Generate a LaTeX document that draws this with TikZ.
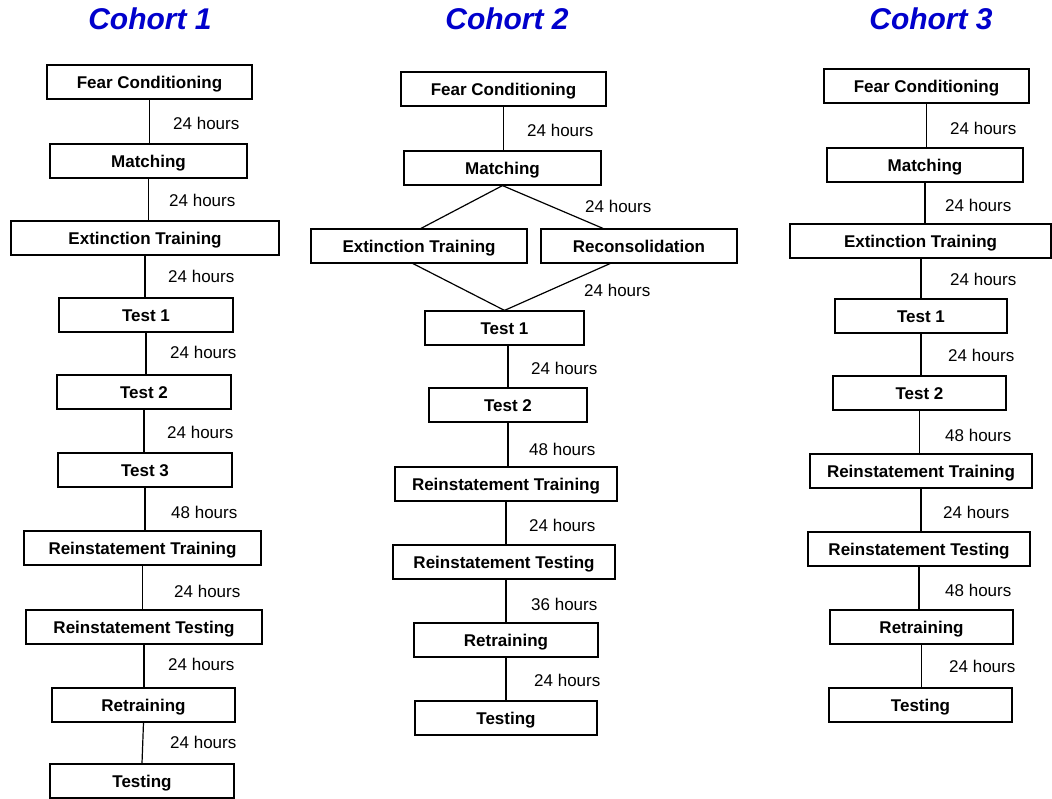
\documentclass[tikz,border=0pt]{standalone}
\usepackage{fontspec}
\setmainfont{Liberation Sans}
\begin{document}
\begin{tikzpicture}[x=1pt,y=-1pt,
  box/.style={draw, line width=1.2pt, inner sep=0pt, minimum height=34pt, text height=13.5pt, text depth=0pt, font=\bfseries\fontsize{17}{20}\selectfont},
  lbl/.style={anchor=west, inner sep=0pt, font=\fontsize{17}{20}\selectfont},
  ttl/.style={inner sep=0pt, text=titleblue, font=\bfseries\itshape\fontsize{30}{34}\selectfont},
  conn/.style={line width=1.2pt}]
\definecolor{titleblue}{RGB}{0,0,204}
\useasboundingbox (0,0) rectangle (1052,799);
% titles
\node[ttl] (t1) at (150,19) {Cohort 1};
\node[ttl] (t2) at (507,19) {Cohort 2};
\node[ttl] (t3) at (931,19) {Cohort 3};
% Cohort 1
\node[box, minimum width=205pt] (c1fc) at (149.5,82) {Fear Conditioning};
\node[box, minimum width=197pt] (c1m) at (148.5,161) {Matching};
\node[box, minimum width=268pt] (c1et) at (145,238) {Extinction Training};
\node[box, minimum width=174pt] (c1t1) at (146,315) {Test 1};
\node[box, minimum width=174pt] (c1t2) at (144,392) {Test 2};
\node[box, minimum width=174pt] (c1t3) at (145,470) {Test 3};
\node[box, minimum width=237pt] (c1rtr) at (142.5,548) {Reinstatement Training};
\node[box, minimum width=236pt] (c1rte) at (144,627) {Reinstatement Testing};
\node[box, minimum width=183pt] (c1re) at (143.5,705) {Retraining};
\node[box, minimum width=184pt] (c1te) at (142,781) {Testing};
\draw[conn] (c1fc.south) -- (c1fc.south |- c1m.north);
\draw[conn] (c1m.south) -- (c1m.south |- c1et.north);
\draw[conn] (c1et.south) -- (c1et.south |- c1t1.north);
\draw[conn] (c1t1.south) -- (c1t1.south |- c1t2.north);
\draw[conn] (c1t2.south) -- (c1t2.south |- c1t3.north);
\draw[conn] (c1t3.south) -- (c1t3.south |- c1rtr.north);
\draw[conn] (c1rtr.south) -- (c1rtr.south |- c1rte.north);
\draw[conn] (c1rte.south) -- (c1rte.south |- c1re.north);
\draw[conn] (c1re.south) -- (c1te.north);
\node[lbl] (l1a) at (173,123) {24 hours};
\node[lbl] (l1b) at (169,200) {24 hours};
\node[lbl] (l1c) at (168,276) {24 hours};
\node[lbl] (l1d) at (170,352) {24 hours};
\node[lbl] (l1e) at (167,432) {24 hours};
\node[lbl] (l1f) at (171,512) {48 hours};
\node[lbl] (l1g) at (174,591) {24 hours};
\node[lbl] (l1h) at (168,664) {24 hours};
\node[lbl] (l1i) at (170,742) {24 hours};
% Cohort 2
\node[box, minimum width=205pt] (c2fc) at (503.5,89) {Fear Conditioning};
\node[box, minimum width=197pt] (c2m) at (502.5,168) {Matching};
\node[box, minimum width=216pt] (c2et) at (419,246) {Extinction Training};
\node[box, minimum width=196pt] (c2rc) at (639,246) {Reconsolidation};
\node[box, minimum width=159pt] (c2t1) at (504.5,328) {Test 1};
\node[box, minimum width=158pt] (c2t2) at (508,405) {Test 2};
\node[box, minimum width=222pt] (c2rtr) at (506,484) {Reinstatement Training};
\node[box, minimum width=222pt] (c2rte) at (504,562) {Reinstatement Testing};
\node[box, minimum width=184pt] (c2re) at (506,640) {Retraining};
\node[box, minimum width=182pt] (c2te) at (506,718) {Testing};
\draw[conn] (c2fc.south) -- (c2fc.south |- c2m.north);
\draw[conn] (c2m.south) -- ([xshift=2pt]c2et.north);
\draw[conn] (c2m.south) -- ([xshift=-36pt]c2rc.north);
\draw[conn] ([xshift=-6pt]c2et.south) -- (c2t1.north);
\draw[conn] ([xshift=-29pt]c2rc.south) -- (c2t1.north);
\draw[conn] (c2t2.north |- c2t1.south) -- (c2t2.north);
\draw[conn] (c2t2.south) -- (c2t2.south |- c2rtr.north);
\draw[conn] (c2rtr.south) -- (c2rtr.south |- c2rte.north);
\draw[conn] (c2re.north |- c2rte.south) -- (c2re.north);
\draw[conn] (c2re.south) -- (c2te.north);
\node[lbl] (l2a) at (527,130) {24 hours};
\node[lbl] (l2b) at (585,206) {24 hours};
\node[lbl] (l2c) at (584,290) {24 hours};
\node[lbl] (l2d) at (531,368) {24 hours};
\node[lbl] (l2e) at (529,449) {48 hours};
\node[lbl] (l2f) at (529,525) {24 hours};
\node[lbl] (l2g) at (531,604) {36 hours};
\node[lbl] (l2h) at (534,680) {24 hours};
% Cohort 3
\node[box, minimum width=205pt] (c3fc) at (926.5,86) {Fear Conditioning};
\node[box, minimum width=196pt] (c3m) at (925,165) {Matching};
\node[box, minimum width=261pt] (c3et) at (920.5,241) {Extinction Training};
\node[box, minimum width=172pt] (c3t1) at (921,316) {Test 1};
\node[box, minimum width=173pt] (c3t2) at (919.5,393) {Test 2};
\node[box, minimum width=222pt] (c3rtr) at (921,471) {Reinstatement Training};
\node[box, minimum width=222pt] (c3rte) at (919,549) {Reinstatement Testing};
\node[box, minimum width=183pt] (c3re) at (921.5,627) {Retraining};
\node[box, minimum width=183pt] (c3te) at (920.5,705) {Testing};
\draw[conn] (c3fc.south) -- (c3fc.south |- c3m.north);
\draw[conn] (c3m.south) -- (c3m.south |- c3et.north);
\draw[conn] (c3t1.north |- c3et.south) -- (c3t1.north);
\draw[conn] (c3t1.south) -- (c3t1.south |- c3t2.north);
\draw[conn] (c3t2.south) -- (c3t2.south |- c3rtr.north);
\draw[conn] (c3rtr.south) -- (c3rtr.south |- c3rte.north);
\draw[conn] (c3rte.south) -- (c3rte.south |- c3re.north);
\draw[conn] (c3re.south) -- (c3re.south |- c3te.north);
\node[lbl] (l3a) at (950,128) {24 hours};
\node[lbl] (l3b) at (945,205) {24 hours};
\node[lbl] (l3c) at (950,279) {24 hours};
\node[lbl] (l3d) at (948,355) {24 hours};
\node[lbl] (l3e) at (945,435) {48 hours};
\node[lbl] (l3f) at (943,512) {24 hours};
\node[lbl] (l3g) at (945,590) {48 hours};
\node[lbl] (l3h) at (949,666) {24 hours};
\end{tikzpicture}
\end{document}
